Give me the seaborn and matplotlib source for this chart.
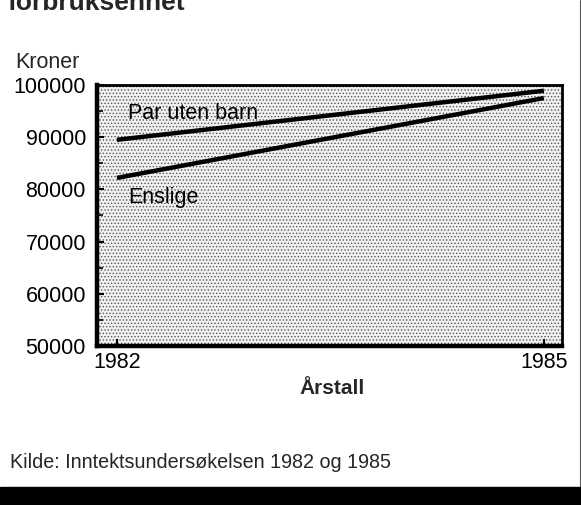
import matplotlib
matplotlib.use("Agg")
import matplotlib.pyplot as plt
import seaborn as sns
import pandas as pd
import numpy as np
from matplotlib.patches import Rectangle
from matplotlib.lines import Line2D
from matplotlib.ticker import MultipleLocator

years = [1982, 1985]
par_uten_barn = [89500, 98900]
enslige = [82200, 97500]
series_names = ["Par uten barn", "Enslige"]
y_ticks = [50000, 60000, 70000, 80000, 90000, 100000]
x_ticks = [1982, 1985]

sns.set_theme(style="white")
plt.rcParams['font.family'] = ['Liberation Sans', 'DejaVu Sans']
plt.rcParams['hatch.linewidth'] = 0.6

df = pd.DataFrame({
    "Årstall": years * 2,
    "Kroner": par_uten_barn + enslige,
    "serie": [series_names[0]] * 2 + [series_names[1]] * 2,
})

fig = plt.figure(figsize=(5.81, 5.05), dpi=100)
ax = fig.add_axes([97/581, 1 - 346/505, (562-97)/581, (346-85)/505])

ax.patch.set_facecolor('white')
bg = Rectangle((0, 0), 1, 1, transform=ax.transAxes, facecolor='#f0f0f0',
               edgecolor='#555555', linewidth=0, hatch='.....', zorder=0)
ax.add_patch(bg)

sns.lineplot(data=df, x="Årstall", y="Kroner", hue="serie",
             palette={series_names[0]: 'black', series_names[1]: 'black'},
             linewidth=3.2, legend=False, ax=ax, solid_capstyle='butt', zorder=3)

ax.set_xlim(1981.86, 1985.127)
ax.set_ylim(50000, 100000)
ax.set_xticks(x_ticks)
ax.set_xticklabels([str(y) for y in x_ticks])
ax.set_yticks(y_ticks)
ax.set_yticklabels([str(v) for v in y_ticks])
ax.yaxis.set_minor_locator(MultipleLocator(5000))

ax.tick_params(axis='both', which='major', direction='in', length=5, width=1.5,
               labelsize=15.5, colors='black', left=True, bottom=True)
ax.tick_params(axis='y', which='minor', direction='in', length=4, width=1.5, left=True)
ax.tick_params(axis='y', which='major', pad=8)
ax.tick_params(axis='x', which='major', pad=4)

for s in ['left', 'bottom']:
    ax.spines[s].set_linewidth(3.2)
for s in ['top', 'right']:
    ax.spines[s].set_linewidth(2)
for s in ax.spines.values():
    s.set_color('black')
    s.set_visible(True)
    s.set_zorder(5)

ax.set_xlabel("")
ax.set_ylabel("")

ax.text(1982.08, 94600, "Par uten barn", fontsize=15.5, va='center', ha='left', color='black', zorder=4)
ax.text(1982.08, 78400, "Enslige", fontsize=15.5, va='center', ha='left', color='black', zorder=4)

fig.text(15/581, 1 - 63/505, "Kroner", fontsize=15.5, va='center', ha='left')
fig.text(332/581, 1 - 388/505, "Årstall", fontsize=15, fontweight='bold', va='center', ha='center')
fig.text(10/581, 1 - 463/505, "Kilde: Inntektsundersøkelsen 1982 og 1985", fontsize=14.2, va='center', ha='left')
fig.text(7/581, 1 - 10/505, "forbruksenhet", fontsize=19, fontweight='bold', va='baseline', ha='left')

fig.lines.append(Line2D([580/581, 580/581], [18/505, 1], transform=fig.transFigure,
                        color='#555555', linewidth=0.8))
fig.patches.append(Rectangle((0, 0), 1, 18/505, transform=fig.transFigure, color='black', zorder=10))

fig.savefig("out.png", dpi=100)
